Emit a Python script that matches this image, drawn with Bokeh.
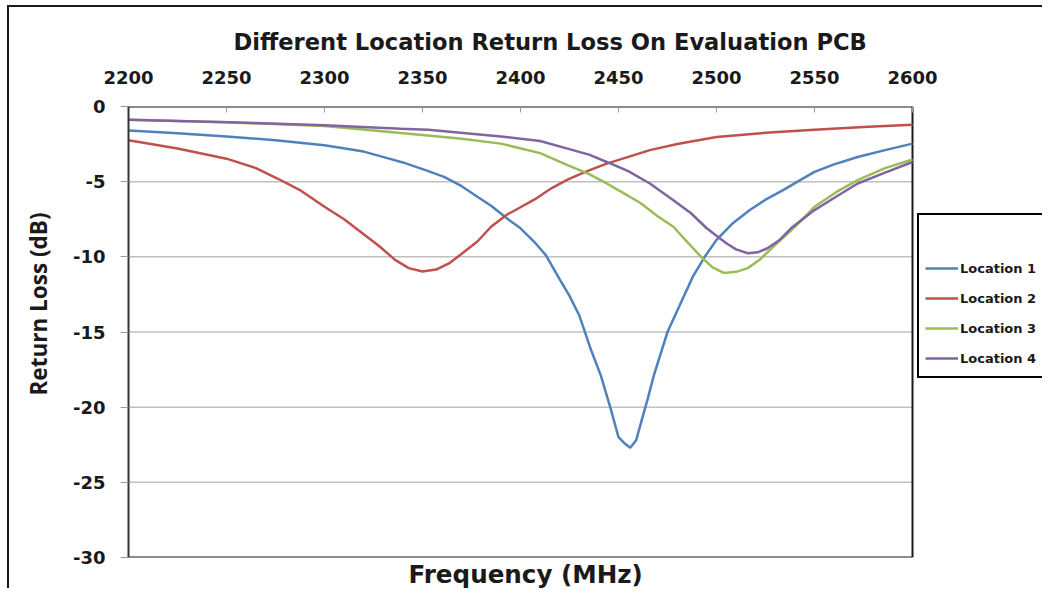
from bokeh.plotting import figure
from bokeh.models import (FixedTicker, Legend, LegendItem, Title,
                          Range1d, ColumnDataSource, PrintfTickFormatter)
from bokeh.embed import file_html
from bokeh.resources import INLINE

# ---------------- data ----------------
f1 = [2200, 2225, 2250, 2275, 2300, 2320, 2333, 2340, 2353, 2361, 2370, 2378,
      2385, 2393, 2400, 2407, 2413, 2420, 2425, 2430, 2436, 2441, 2446, 2450,
      2453, 2456, 2459, 2462, 2465, 2468, 2475, 2482, 2488, 2494, 2500, 2508,
      2517, 2525, 2534, 2542, 2550, 2560, 2572, 2586, 2600]
loc1 = [-1.59, -1.78, -1.99, -2.25, -2.58, -3.0, -3.47, -3.72, -4.3, -4.68,
        -5.3, -6.0, -6.6, -7.44, -8.1, -9.0, -9.9, -11.5, -12.6, -13.9, -16.2,
        -17.9, -20.1, -22.0, -22.4, -22.7, -22.2, -20.8, -19.4, -17.9, -15.0,
        -13.0, -11.3, -10.0, -8.87, -7.8, -6.89, -6.2, -5.56, -4.95, -4.35,
        -3.85, -3.36, -2.9, -2.47]

f2 = [2200, 2225, 2250, 2265, 2276, 2288, 2300, 2310, 2319, 2328, 2336, 2343,
      2350, 2357, 2364, 2371, 2378, 2385, 2393, 2400, 2407, 2415, 2424, 2434,
      2444, 2455, 2466, 2480, 2500, 2525, 2550, 2575, 2600]
loc2 = [-2.25, -2.8, -3.47, -4.1, -4.79, -5.6, -6.67, -7.5, -8.4, -9.3, -10.2,
        -10.75, -10.97, -10.85, -10.4, -9.7, -8.98, -8.0, -7.2, -6.7, -6.2,
        -5.5, -4.86, -4.3, -3.8, -3.35, -2.9, -2.5, -2.03, -1.75, -1.55, -1.37,
        -1.21]

f3 = [2200, 2250, 2300, 2339, 2370, 2390, 2410, 2424, 2435, 2444, 2453, 2461,
      2470, 2478, 2485, 2492, 2498, 2504, 2510, 2516, 2522, 2529, 2540, 2550,
      2561, 2572, 2586, 2600]
loc3 = [-0.88, -1.05, -1.3, -1.77, -2.15, -2.47, -3.1, -3.9, -4.5, -5.12, -5.8,
        -6.4, -7.3, -8.0, -9.0, -9.98, -10.7, -11.08, -11.0, -10.75, -10.2,
        -9.32, -8.0, -6.67, -5.7, -4.9, -4.1, -3.53]

f4 = [2200, 2251, 2300, 2339, 2353, 2390, 2410, 2424, 2435, 2444, 2455, 2466,
      2478, 2487, 2495, 2505, 2510, 2516, 2521, 2526, 2532, 2538, 2550, 2561,
      2572, 2586, 2600]
loc4 = [-0.88, -1.04, -1.24, -1.48, -1.55, -1.99, -2.3, -2.8, -3.2, -3.69,
        -4.3, -5.12, -6.23, -7.1, -8.1, -9.1, -9.5, -9.76, -9.7, -9.43, -8.9,
        -8.1, -6.89, -6.0, -5.12, -4.4, -3.69]

series_names = ["Location 1", "Location 2", "Location 3", "Location 4"]
colors = ["#4F81BD", "#C0504D", "#9BBB59", "#8064A2"]
x_ticks = [2200, 2250, 2300, 2350, 2400, 2450, 2500, 2550, 2600]
y_ticks = [0, -5, -10, -15, -20, -25, -30]

FONT = "DejaVu Sans"
TXT = "#1a1a1a"

W, H = 1042, 588
LEFT, TOP, BOTTOM = 128, 106, 29
PLOT_RIGHT = 912   # pixel where 2600 MHz sits; legend lives to its right

x0, x1 = x_ticks[0], x_ticks[-1]
y_lo, y_hi = y_ticks[-1], y_ticks[0]
# the frame runs to the canvas edge so the legend can sit right of the plot
x_end = x0 + (x1 - x0) * (W - LEFT) / (PLOT_RIGHT - LEFT)

p = figure(width=W, height=H, output_backend="svg", toolbar_location=None,
           x_axis_location="above", x_range=Range1d(x0, x_end),
           y_range=Range1d(y_lo, y_hi),
           min_border_left=LEFT, min_border_right=0, min_border_top=TOP,
           min_border_bottom=BOTTOM)
p.background_fill_color = "white"
p.border_fill_alpha = 0
p.outline_line_color = None
p.styles = {
    "background": ("linear-gradient(#1a1a1a,#1a1a1a) 7px 5px / 2px 100% no-repeat, "
                   "linear-gradient(#1a1a1a,#1a1a1a) 7px 5px / 100% 2px no-repeat, "
                   "white"),
}

# title
t = Title(text="Different Location Return Loss On Evaluation PCB",
          text_font=FONT, text_font_size="22.6px", text_font_style="bold",
          text_color=TXT, align="left", offset=105, standoff=25)
p.add_layout(t, "above")

# x-axis label under the plot
tb = Title(text="Frequency (MHz)", text_font=FONT, text_font_size="24.6px",
           text_font_style="bold", text_color=TXT, align="left", offset=280,
           standoff=0)
p.add_layout(tb, "below")

# y-axis label at the left of the tick labels
tl = Title(text="Return Loss (dB)", text_font="Open Sans",
           text_font_size="22.5px", text_font_style="bold", text_color=TXT,
           align="left", offset=162, standoff=31)
p.add_layout(tl, "left")

# top x axis
xa = p.xaxis[0]
xa.ticker = FixedTicker(ticks=x_ticks)
xa.major_label_text_font = FONT
xa.major_label_text_font_size = "18px"
xa.major_label_text_font_style = "bold"
xa.major_label_text_color = TXT
xa.major_tick_in = 6
xa.major_tick_out = 0
xa.minor_tick_line_color = None
xa.major_tick_line_color = "#999999"
xa.axis_line_color = None
xa.major_label_standoff = 23

# left y axis
ya = p.yaxis[0]
ya.ticker = FixedTicker(ticks=y_ticks)
ya.formatter = PrintfTickFormatter(format="%d")
ya.major_label_text_font = FONT
ya.major_label_text_font_size = "18px"
ya.major_label_text_font_style = "bold"
ya.major_label_text_color = TXT
ya.major_tick_in = 0
ya.major_tick_out = 8
ya.major_tick_line_color = "#999999"
ya.minor_tick_line_color = None
ya.axis_line_color = "#333333"
ya.axis_line_width = 2
ya.major_label_standoff = 15

p.xgrid.grid_line_color = None
p.ygrid.grid_line_color = None

# horizontal gridlines, limited to the plot span
grid_y = y_ticks[1:-1]
p.segment(x0=[x0] * len(grid_y), x1=[x1] * len(grid_y), y0=grid_y, y1=grid_y,
          line_color="#c0c0c0", line_width=1.5)
# plot-area border: top, bottom, right
p.segment(x0=[x0, x0, x1], x1=[x1, x1, x1], y0=[y_hi, y_lo, y_lo],
          y1=[y_hi, y_lo, y_hi], line_color=TXT, line_width=2)

items = []
for fx, vals, name, c in zip([f1, f2, f3, f4], [loc1, loc2, loc3, loc4],
                             series_names, colors):
    src = ColumnDataSource(dict(x=fx, y=vals))
    r = p.line("x", "y", source=src, line_color=c, line_width=2.5)
    items.append(LegendItem(label=name, renderers=[r]))

leg = Legend(items=items, location=(PLOT_RIGHT - LEFT + 5, 559 - 380),
             margin=0, padding=6,
             spacing=6, glyph_width=33, glyph_height=24, label_height=24,
             label_standoff=2, label_text_font=FONT,
             label_text_font_size="13px",
             label_text_font_style="bold", label_text_color=TXT,
             border_line_color="black", border_line_width=2,
             border_line_alpha=1.0,
             title=" ", title_text_font_size="12px", title_standoff=21,
             background_fill_color="white", background_fill_alpha=1.0)
p.add_layout(leg, "center")

open("out.html", "w").write(file_html(p, INLINE))
